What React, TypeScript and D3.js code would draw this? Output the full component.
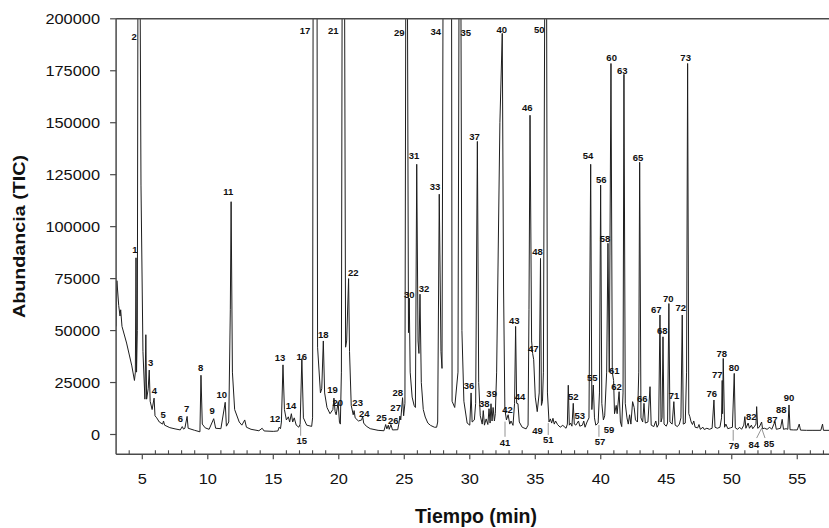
import React from 'react';
import * as d3 from 'd3';

const W = 829;
const H = 528;

const xTicks = [5, 10, 15, 20, 25, 30, 35, 40, 45, 50, 55];
const yTicks = [0, 25000, 50000, 75000, 100000, 125000, 150000, 175000, 200000];
const xTitle = 'Tiempo (min)';
const yTitle = 'Abundancia (TIC)';

// chromatogram trace: [time (min), abundance]
const trace: [number, number][] = [
  [3.0, 52000], [3.06, 74000], [3.2, 62000], [3.3, 57000], [3.35, 60000], [3.45, 52000], [3.8, 44000], [4.2, 33000],
  [4.4, 26000], [4.47, 30000], [4.52, 85000], [4.56, 30000], [4.62, 50000], [4.68, 260000], [4.8, 260000], [4.9, 120000],
  [5.05, 40000], [5.2, 17000], [5.27, 48000], [5.33, 17000], [5.45, 22000], [5.53, 31000], [5.6, 16000], [5.75, 12000],
  [5.9, 17500], [5.97, 9000], [6.1, 8000], [6.3, 6000], [6.55, 5000], [6.62, 6500], [6.7, 4500], [7.1, 3300], [7.5, 2700],
  [7.9, 2200], [8.05, 3800], [8.15, 2600], [8.25, 3000], [8.42, 8700], [8.5, 3000], [9.0, 2000], [9.4, 1300], [9.48, 28500],
  [9.58, 5000], [9.8, 3200], [10.1, 2500], [10.45, 7600], [10.6, 3000], [11.0, 2800], [11.33, 15500], [11.42, 4000],
  [11.6, 6000], [11.72, 60000], [11.78, 112000], [11.88, 30000], [12.05, 12000], [12.4, 6000], [12.6, 4500], [12.82, 7000],
  [12.95, 3500], [13.3, 2500], [13.9, 1800], [14.15, 3000], [14.3, 1700], [15.0, 1500], [15.35, 1700], [15.45, 3500],
  [15.55, 2800], [15.62, 6000], [15.74, 33500], [15.85, 12000], [16.0, 7000], [16.15, 8500], [16.25, 6000], [16.38, 10000],
  [16.48, 6000], [16.6, 8000], [16.75, 4500], [16.95, 3500], [17.05, 5000], [17.18, 36500], [17.3, 8000], [17.55, 4500],
  [17.93, 3900], [18.0, 8000], [18.05, 260000], [18.33, 260000], [18.38, 42000], [18.6, 20000], [18.7, 22000], [18.82, 45000],
  [18.92, 20000], [19.1, 13000], [19.33, 10000], [19.55, 12000], [19.63, 17500], [19.72, 11000], [19.8, 9500], [19.95, 15500],
  [20.05, 6000], [20.12, 5000], [20.2, 30000], [20.27, 260000], [20.42, 260000], [20.52, 42000], [20.6, 45000], [20.75, 75000],
  [20.82, 40000], [20.95, 14000], [21.1, 9500], [21.17, 11500], [21.25, 8000], [21.5, 6500], [21.75, 7000], [21.82, 8800],
  [21.9, 5500], [22.1, 4000], [22.4, 2800], [23.0, 2000], [23.45, 1800], [23.58, 4800], [23.67, 2700], [23.78, 4500],
  [23.85, 2500], [23.98, 4800], [24.1, 2200], [24.5, 2300], [24.58, 5000], [24.67, 8900], [24.73, 7000], [24.87, 17700],
  [24.95, 9000], [25.05, 15000], [25.13, 260000], [25.22, 260000], [25.32, 49000], [25.38, 65600], [25.45, 30000],
  [25.6, 18000], [25.75, 14000], [25.85, 13000], [25.95, 130000], [26.05, 45000], [26.12, 39000], [26.2, 67500], [26.3, 25000],
  [26.45, 12000], [26.6, 8400], [26.8, 5500], [27.0, 4400], [27.3, 3500], [27.47, 3500], [27.55, 6000], [27.67, 115600],
  [27.8, 40000], [27.88, 31800], [27.98, 260000], [28.6, 260000], [28.65, 16000], [28.85, 13000], [29.1, 30000],
  [29.2, 260000], [29.3, 260000], [29.4, 50000], [29.55, 16000], [29.8, 5500], [30.0, 4500], [30.1, 20000], [30.18, 6000],
  [30.35, 7000], [30.45, 15000], [30.58, 141000], [30.68, 25000], [30.8, 9000], [30.95, 5000], [31.03, 11500], [31.12, 4500],
  [31.25, 7500], [31.38, 4800], [31.47, 12400], [31.55, 5500], [31.62, 14800], [31.7, 6500], [31.78, 13000], [31.88, 6500],
  [31.95, 10000], [32.05, 30000], [32.3, 150000], [32.48, 193000], [32.58, 70000], [32.68, 12000], [32.8, 7000], [32.93, 9500],
  [33.05, 5000], [33.15, 6500], [33.3, 4400], [33.42, 15000], [33.5, 52000], [33.58, 15000], [33.68, 14800], [33.78, 6000],
  [34.0, 3500], [34.3, 2700], [34.45, 4500], [34.52, 60000], [34.6, 153600], [34.72, 45000], [34.8, 39000], [34.88, 36000],
  [35.0, 18000], [35.15, 11000], [35.3, 20000], [35.4, 84700], [35.47, 14000], [35.55, 16000], [35.62, 30000],
  [35.75, 260000], [35.85, 260000], [35.93, 20000], [36.05, 6000], [36.15, 7500], [36.25, 5500], [36.35, 7800], [36.45, 5000],
  [36.55, 6500], [36.7, 4800], [36.9, 3500], [37.1, 4400], [37.35, 3000], [37.45, 5000], [37.52, 23700], [37.6, 4500],
  [37.7, 5500], [37.8, 4000], [37.9, 15000], [37.98, 5000], [38.1, 4500], [38.3, 6500], [38.4, 4000], [38.6, 4500],
  [38.7, 6500], [38.8, 3500], [38.95, 6000], [39.1, 8000], [39.23, 130000], [39.32, 12000], [39.43, 23800], [39.52, 8000],
  [39.62, 4500], [39.8, 5500], [39.9, 20000], [39.99, 120000], [40.08, 15000], [40.2, 7000], [40.3, 9000], [40.45, 30000],
  [40.55, 92000], [40.65, 30000], [40.78, 178500], [40.88, 30000], [40.98, 26000], [41.05, 10000], [41.18, 14000],
  [41.25, 10000], [41.4, 20600], [41.5, 6000], [41.6, 3800], [41.7, 20000], [41.77, 173300], [41.87, 15000], [42.0, 8000],
  [42.1, 5000], [42.2, 9500], [42.3, 5000], [42.43, 15800], [42.55, 13000], [42.65, 7000], [42.8, 6000], [42.9, 30000],
  [42.97, 131000], [43.07, 8000], [43.2, 6000], [43.3, 15000], [43.4, 5500], [43.6, 6000], [43.76, 23000], [43.85, 4500],
  [44.05, 3800], [44.2, 6500], [44.3, 3500], [44.42, 5000], [44.52, 57500], [44.6, 6000], [44.68, 8000], [44.75, 47000],
  [44.83, 5000], [45.0, 4000], [45.1, 5500], [45.2, 63000], [45.28, 6000], [45.45, 5000], [45.58, 15800], [45.68, 4500],
  [45.85, 3800], [46.0, 5000], [46.12, 8000], [46.22, 57500], [46.3, 5000], [46.45, 5500], [46.55, 30000], [46.63, 178500],
  [46.72, 10000], [46.8, 8600], [46.9, 6000], [47.0, 4800], [47.1, 6500], [47.2, 3500], [47.4, 3200], [47.5, 4800],
  [47.6, 2500], [47.8, 3500], [47.9, 2400], [48.1, 3000], [48.3, 2500], [48.5, 3000], [48.64, 16600], [48.72, 3500],
  [48.9, 3000], [49.1, 3500], [49.22, 8000], [49.27, 26000], [49.3, 10000], [49.35, 36600], [49.45, 3500], [49.55, 5000],
  [49.7, 2800], [49.9, 3200], [50.05, 3500], [50.19, 29400], [50.27, 3200], [50.45, 2500], [50.6, 3500], [50.75, 2500],
  [50.92, 4500], [51.0, 8600], [51.08, 3000], [51.25, 5500], [51.35, 3000], [51.5, 4500], [51.6, 2800], [51.75, 4000],
  [51.85, 5000], [51.9, 13400], [51.98, 3000], [52.1, 3500], [52.28, 6000], [52.35, 2800], [52.5, 3000], [52.7, 2500],
  [52.9, 3500], [53.05, 2500], [53.3, 6200], [53.4, 2500], [53.6, 2800], [53.72, 3000], [53.85, 7300], [53.95, 2500],
  [54.15, 2800], [54.28, 2500], [54.37, 14200], [54.45, 2300], [54.7, 2200], [55.0, 2200], [55.15, 5000], [55.25, 2100],
  [55.7, 2000], [56.2, 2000], [56.8, 2000], [56.93, 5000], [57.0, 2000], [57.5, 2000],
];

// peak numbers: [label, time, abundance] (centre of the label)
const peakLabels: [string, number, number][] = [
  ['1', 4.44, 88700], ['2', 4.37, 191200], ['3', 5.64, 34500], ['4', 5.92, 21100], ['5', 6.6, 9400], ['6', 7.9, 7800],
  ['7', 8.39, 12600], ['8', 9.46, 32300], ['9', 10.34, 11400], ['10', 11.06, 19300], ['11', 11.56, 116700],
  ['12', 15.13, 7500], ['13', 15.51, 37100], ['14', 16.35, 13800], ['15', 17.17, -3100], ['16', 17.17, 37400],
  ['17', 17.42, 194500], ['18', 18.82, 48200], ['19', 19.53, 21400], ['20', 19.92, 15300], ['21', 19.58, 194100],
  ['22', 21.11, 78000], ['23', 21.44, 15500], ['24', 21.95, 10200], ['25', 23.27, 8300], ['26', 24.16, 6600],
  ['27', 24.34, 13100], ['28', 24.5, 20300], ['29', 24.62, 193400], ['30', 25.38, 67100], ['31', 25.74, 134000],
  ['32', 26.5, 70000], ['33', 27.34, 119100], ['34', 27.4, 193700], ['35', 29.69, 193400], ['36', 29.94, 23500],
  ['37', 30.37, 143500], ['38', 31.11, 14700], ['39', 31.67, 19800], ['40', 32.44, 195000], ['41', 32.69, -3900],
  ['42', 32.89, 11800], ['43', 33.4, 54600], ['44', 33.83, 18200], ['46', 34.39, 157300], ['47', 34.85, 41400],
  ['48', 35.18, 87900], ['49', 35.18, 1700], ['50', 35.31, 195000], ['51', 35.99, -2600], ['52', 37.9, 18200],
  ['53', 38.39, 9000], ['54', 39.02, 134200], ['55', 39.35, 27500], ['56', 40.04, 122700], ['57', 39.94, -3500],
  ['58', 40.32, 94300], ['59', 40.63, 2200], ['60', 40.83, 181300], ['61', 41.03, 30700], ['62', 41.21, 23000],
  ['63', 41.64, 175200], ['65', 42.84, 133300], ['66', 43.17, 17400], ['67', 44.24, 60200], ['68', 44.69, 49800],
  ['70', 45.15, 65500], ['71', 45.59, 18500], ['72', 46.1, 61000], ['73', 46.48, 181300], ['76', 48.47, 19800],
  ['77', 48.89, 28600], ['78', 49.23, 38700], ['79', 50.17, -5500], ['80', 50.17, 32300], ['82', 51.49, 8600],
  ['84', 51.69, -4700], ['85', 52.84, -4600], ['87', 53.09, 7000], ['88', 53.78, 11800], ['90', 54.37, 17900],
];

// leader lines for labels written below the baseline: [t1, v1, t2, v2]
const leaders: [number, number, number, number][] = [
  [17.09, 4600, 17.09, -600], [32.69, 6200, 32.69, -1100], [35.99, 5500, 35.99, -200],
  [39.86, 4600, 39.86, -1100], [50.11, 2200, 50.11, -3000], [52.28, 3000, 51.9, -1700], [52.28, 3000, 52.54, -1700],
];

const FONT = 'Liberation Sans, Arial, Helvetica, sans-serif';

export default function App() {
  const x = d3.scaleLinear().domain([3, 57.5]).range([116.1, 830]);
  const y = d3.scaleLinear().domain([0, 200000]).range([434.5, 18.8]);
  const yBottomVal = -9520;
  const x0 = x(3);
  const x1 = x(57.5);
  const yTop = y(200000);
  const yBot = y(yBottomVal);

  const line = d3.line<[number, number]>().x(d => x(d[0])).y(d => y(d[1]));
  const minorTicks = d3.range(4, 58).filter(v => v % 5 !== 0);
  const axisColor = '#4a4a4a';

  return (
    <svg width={W} height={H} style={{ position: 'absolute', left: 0, top: 0, background: '#fff' }}>
      <defs>
        <clipPath id="plotClip">
          <rect x={x0} y={yTop} width={x1 - x0} height={yBot - yTop} />
        </clipPath>
      </defs>
      <rect x={0} y={0} width={W} height={H} fill="#fff" />

      <path d={line(trace) || ''} fill="none" stroke="#1e1e1e" strokeWidth={1} strokeLinejoin="round" clipPath="url(#plotClip)" />

      {leaders.map((l, i) => (
        <line key={'ld' + i} x1={x(l[0])} y1={y(l[1])} x2={x(l[2])} y2={y(l[3])} stroke="#777" strokeWidth={0.8} />
      ))}

      {peakLabels.map(([lab, t, v]) => (
        <text key={'pl' + lab} x={x(t)} y={y(v)} dy="0.35em" textAnchor="middle" fontFamily={FONT} fontWeight="bold" fontSize={9.5} fill="#111">
          {lab}
        </text>
      ))}

      {/* frame */}
      <line x1={x0} y1={yTop} x2={x1} y2={yTop} stroke={axisColor} strokeWidth={1.5} />
      <line x1={x0} y1={yTop} x2={x0} y2={yBot} stroke={axisColor} strokeWidth={1.5} />
      <line x1={x0} y1={yBot} x2={x1} y2={yBot} stroke={axisColor} strokeWidth={1.5} />

      {/* y axis */}
      {yTicks.map(v => (
        <g key={'yt' + v}>
          <line x1={x0 - 6} x2={x0} y1={y(v)} y2={y(v)} stroke={axisColor} strokeWidth={1.2} />
          <text x={100} y={y(v)} dy="0.36em" textAnchor="end" fontFamily={FONT} fontSize={14} fill="#111"
            textLength={String(v).length * 9.1} lengthAdjust="spacingAndGlyphs">
            {String(v)}
          </text>
        </g>
      ))}

      {/* x axis */}
      {minorTicks.map(v => (
        <line key={'mt' + v} x1={x(v)} x2={x(v)} y1={yBot - 4} y2={yBot} stroke={axisColor} strokeWidth={1.1} />
      ))}
      {xTicks.map(v => (
        <g key={'xt' + v}>
          <line x1={x(v)} x2={x(v)} y1={yBot} y2={yBot + 5} stroke={axisColor} strokeWidth={1.2} />
          <text x={x(v)} y={483.5} textAnchor="middle" fontFamily={FONT} fontSize={14} fill="#111"
            textLength={String(v).length * 9.1} lengthAdjust="spacingAndGlyphs">
            {String(v)}
          </text>
        </g>
      ))}

      <text x={476} y={522.5} textAnchor="middle" fontFamily={FONT} fontWeight="bold" fontSize={19.5} fill="#111"
        textLength={122} lengthAdjust="spacingAndGlyphs">
        {xTitle}
      </text>
      <text transform="translate(25,236.5) rotate(-90)" x={0} y={0} textAnchor="middle" fontFamily={FONT} fontWeight="bold"
        fontSize={16.5} fill="#111" textLength={163} lengthAdjust="spacingAndGlyphs">
        {yTitle}
      </text>
    </svg>
  );
}
